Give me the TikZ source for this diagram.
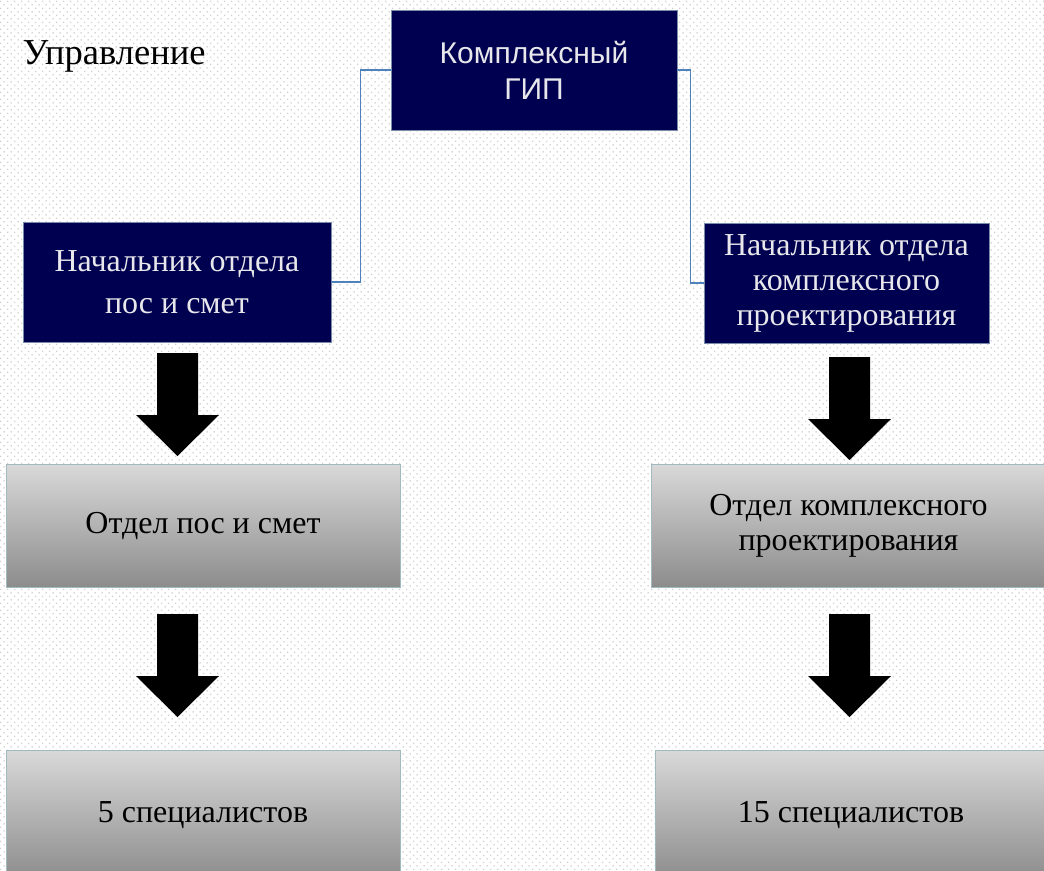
\documentclass[tikz,border=0pt]{standalone}
\usepackage{fontspec}
\setmainfont{Liberation Serif}
\newfontfamily\arialfont{Liberation Sans}
\usetikzlibrary{patterns.meta}
\definecolor{navybox}{RGB}{0,0,80}
\definecolor{navyline}{RGB}{120,140,170}
\definecolor{connblue}{RGB}{79,129,189}
\definecolor{lighttext}{RGB}{232,232,236}
\definecolor{grayline}{RGB}{160,185,190}
\tikzdeclarepattern{
  name=bgdots,
  type=uncolored,
  bounding box={(0pt,0pt) and (7.4pt,7.4pt)},
  tile size={(7.4pt,7.4pt)},
  code={\fill (1.85pt,1.85pt) circle (0.85pt); \fill (5.55pt,5.55pt) circle (0.85pt);}
}
\tikzset{
  navy/.style={draw=navyline, line width=0.8pt, fill=navybox, text=lighttext,
    minimum width=#1, minimum height=120, inner sep=0pt, align=center,
    font=\fontsize{32}{42}\selectfont},
  graybox/.style={draw=grayline, line width=0.8pt, top color=gray!30, bottom color=gray!90,
    minimum width=#1, minimum height=123, inner sep=0pt, align=center,
    font=\fontsize{32}{42}\selectfont},
  conn/.style={draw=connblue, line width=1.3pt},
  downarrow/.pic={\fill[black] (-20.5,0) -- (20.5,0) -- (20.5,62) -- (41.5,62) -- (0,103)
    -- (-41.5,62) -- (-20.5,62) -- cycle;}
}
\begin{document}
\begin{tikzpicture}[x=1pt,y=-1pt]
\useasboundingbox (0,0) rectangle (1044,870);
\fill[white] (0,0) rectangle (1044,870);
\fill[pattern=bgdots, pattern color=gray!40] (0,0) rectangle (1044,870);

\node[anchor=base west, font=\fontsize{36.5}{42}\selectfont] (title) at (19,64) {Управление};

\node[navy=286, font=\arialfont\fontsize{30}{36}\selectfont] (gip) at (534,70) {Комплексный\\ГИП};
\node[navy=308] (lhead) at (177,282) {Начальник отдела\\пос и смет};
\node[navy=285, font=\fontsize{32}{35}\selectfont] (rhead) at (846.5,283) {Начальник отдела\\комплексного\\проектирования};

\node[graybox=394] (ldept) at (203,525.5) {Отдел пос и смет};
\node[graybox=395, font=\fontsize{32}{35}\selectfont] (rdept) at (848.5,525.5) {Отдел комплексного\\проектирования};

\node[graybox=394, minimum height=130] (lspec) at (203,815) {5 специалистов};
\node[graybox=392, minimum height=130] (rspec) at (851,815) {15 специалистов};

\draw[conn] (gip.west) -- ++(-30,0) |- (lhead.east);
\draw[conn] (gip.east) -- ++(13,0) |- (rhead.west);

\pic at (177.5,353) {downarrow};
\pic at (849.5,357) {downarrow};
\pic at (177.5,614) {downarrow};
\pic at (849.5,614) {downarrow};
\end{tikzpicture}
\end{document}
